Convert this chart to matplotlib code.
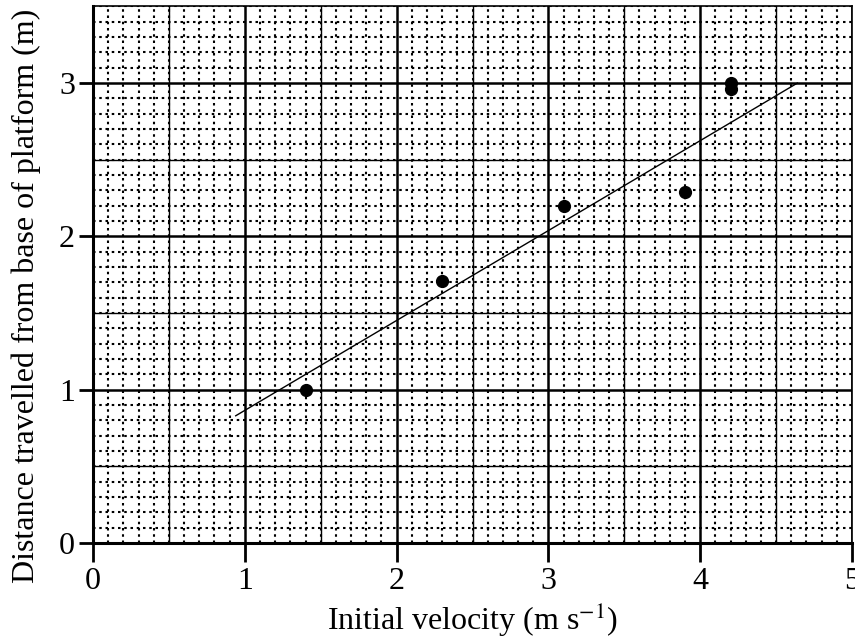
import numpy as np
import matplotlib
matplotlib.use("Agg")
import matplotlib.pyplot as plt

velocity = [1.4, 2.3, 3.1, 3.9, 4.2, 4.2]
distance = [1.0, 1.71, 2.2, 2.29, 2.96, 3.0]
fit_x = [0.94, 4.64]
fit_y = [0.83, 3.0]
x_ticks = [0, 1, 2, 3, 4, 5]
y_ticks = [0, 1, 2, 3]

plt.rcParams['font.family'] = ['Liberation Serif', 'DejaVu Serif']
plt.rcParams['mathtext.fontset'] = 'stix'

fig = plt.figure(figsize=(8.55, 6.44), dpi=100)
ax = fig.add_axes([0.1088, 0.1568, 0.8877, 0.8332])
ax.set_xlim(0, 5)
ax.set_ylim(0, 3.5)

ax.set_xticks(x_ticks)
ax.set_yticks(y_ticks)
ax.set_xticks(np.arange(0, 5.01, 0.1), minor=True)
ax.set_yticks(np.arange(0, 3.51, 0.1), minor=True)
ax.tick_params(which='minor', length=0)
ax.tick_params(which='major', direction='out', length=14, width=2, labelsize=23, pad=3)
ax.tick_params(axis='y', which='major', length=10)

ax.grid(which='minor', color='black', linestyle=(0, (1.2, 1.8)), linewidth=1.5)
ax.grid(which='major', color='black', linestyle='-', linewidth=1.8)
for v in np.arange(0.5, 5, 1):
    ax.axvline(v, color='black', linewidth=1.0, zorder=1)
for v in np.arange(0.5, 3.5, 1):
    ax.axhline(v, color='black', linewidth=1.0, zorder=1)
ax.set_axisbelow(True)

for s in ['left', 'bottom']:
    ax.spines[s].set_linewidth(2.2)
for s in ['right', 'top']:
    ax.spines[s].set_linewidth(1.2)

ax.plot(fit_x, fit_y, color='black', linewidth=1.0, zorder=3)
ax.plot(velocity, distance, 'o', color='black', markersize=8.5, zorder=4)

ax.set_xlabel('Initial velocity (m s$^{-1}$)', fontsize=23, labelpad=4)
ax.set_ylabel('Distance travelled from base of platform (m)', fontsize=23)
ax.yaxis.set_label_coords(-0.068, 0.46)

fig.savefig('out.png', dpi=100)
